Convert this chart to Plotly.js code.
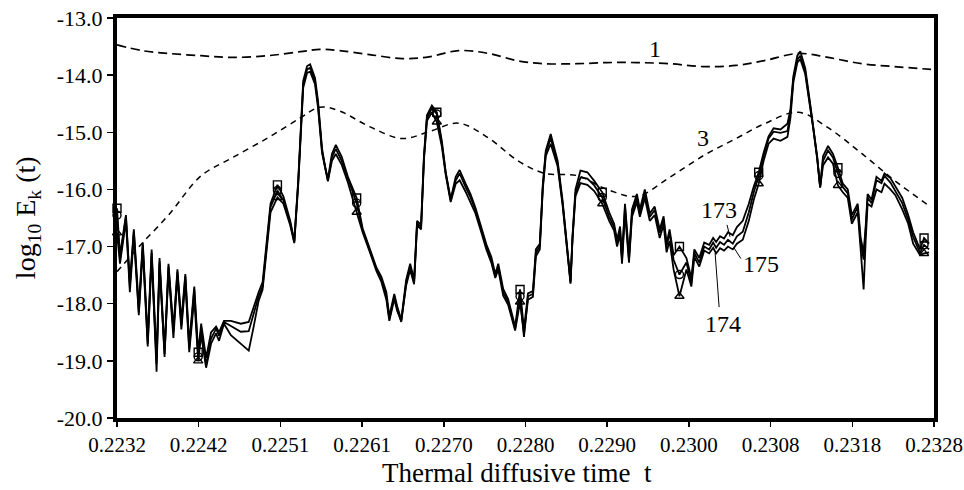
<!DOCTYPE html>
<html>
<head>
<meta charset="utf-8">
<script src="https://cdn.plot.ly/plotly-3.0.1.min.js"></script>
<style>html,body{margin:0;padding:0;background:#fff;}#chart{width:964px;height:490px;}</style>
</head>
<body>
<div id="chart"></div>
<script>
// Thermal diffusive time samples
const t = [
0.223200,0.223235,0.223305,0.223351,0.223398,0.223456,0.223503,0.223561,0.223607,0.223665,
0.223700,0.223759,0.223805,0.223863,0.223910,0.223956,0.224003,0.224049,0.224108,0.224154,
0.224189,0.224247,0.224305,0.224364,0.224399,0.224457,0.224538,0.224655,0.224748,0.224806,
0.224864,0.224911,0.224969,0.225004,0.225085,0.225155,0.225236,0.225283,0.225329,0.225364,
0.225388,0.225434,0.225469,0.225527,0.225562,0.225609,0.225644,0.225678,0.225725,0.225771,
0.225841,0.225911,0.226016,0.226086,0.226167,0.226249,0.226307,0.226365,0.226400,0.226458,
0.226493,0.226540,0.226598,0.226645,0.226691,0.226726,0.226773,0.226807,0.226842,0.226900,
0.226958,0.227017,0.227063,0.227121,0.227180,0.227226,0.227296,0.227354,0.227412,0.227482,
0.227540,0.227598,0.227645,0.227680,0.227738,0.227796,0.227878,0.227936,0.227982,0.228029,
0.228087,0.228122,0.228168,0.228203,0.228238,0.228296,0.228378,0.228436,0.228483,0.228529,
0.228553,0.228587,0.228646,0.228727,0.228808,0.228902,0.228983,0.229041,0.229076,0.229111,
0.229134,0.229169,0.229216,0.229251,0.229309,0.229344,0.229402,0.229460,0.229518,0.229577,
0.229623,0.229658,0.229693,0.229740,0.229809,0.229891,0.229949,0.229984,0.230042,0.230100,
0.230158,0.230205,0.230240,0.230286,0.230333,0.230379,0.230436,0.230484,0.230553,0.230624,
0.230682,0.230740,0.230798,0.230856,0.230915,0.230996,0.231078,0.231113,0.231147,0.231194,
0.231229,0.231287,0.231345,0.231380,0.231427,0.231462,0.231496,0.231555,0.231613,0.231671,
0.231729,0.231787,0.231834,0.231869,0.231904,0.231938,0.231973,0.231997,0.232020,0.232066,
0.232124,0.232183,0.232218,0.232288,0.232346,0.232427,0.232497,0.232555,0.232636,0.232683,
0.232742];

// log10 Ek(t), run 173
const e173 = [
-16.33,-17.15,-16.45,-17.62,-16.70,-18.05,-16.93,-18.60,-17.05,-18.95,
-17.20,-18.80,-17.30,-18.45,-17.40,-18.30,-17.48,-18.70,-17.70,-18.85,
-18.35,-18.95,-18.50,-18.40,-18.50,-18.30,-18.30,-18.35,-18.32,-18.05,
-17.80,-17.62,-16.70,-16.25,-15.92,-16.12,-16.55,-16.90,-15.85,-14.70,
-14.10,-13.84,-13.81,-14.05,-14.45,-15.28,-15.60,-15.82,-15.38,-15.22,
-15.43,-15.77,-16.15,-16.68,-17.02,-17.37,-17.53,-17.80,-18.22,-17.83,
-18.05,-18.28,-17.58,-17.30,-17.58,-16.55,-16.62,-15.40,-14.70,-14.53,
-14.65,-15.15,-15.70,-16.17,-15.78,-15.66,-15.90,-16.08,-16.32,-16.67,
-16.96,-17.18,-17.48,-17.30,-17.74,-17.92,-18.40,-17.75,-18.45,-17.82,
-17.78,-17.05,-16.95,-15.92,-15.32,-15.03,-15.50,-16.20,-16.97,-17.60,
-16.80,-16.00,-15.67,-15.70,-15.85,-16.05,-16.40,-16.60,-16.88,-16.65,
-17.18,-16.25,-17.15,-16.35,-16.08,-16.35,-16.00,-16.42,-16.30,-16.70,
-16.47,-16.95,-16.70,-17.15,-17.00,-17.20,-17.55,-17.05,-17.20,-16.93,
-16.97,-16.85,-16.92,-16.82,-16.86,-16.75,-16.80,-16.66,-16.55,-16.25,
-15.95,-15.70,-15.36,-15.07,-14.93,-14.95,-14.85,-14.60,-14.02,-13.66,
-13.58,-13.88,-14.50,-14.87,-15.42,-15.95,-15.42,-15.24,-15.38,-15.62,
-15.90,-16.00,-16.45,-16.35,-16.25,-16.85,-17.10,-16.65,-16.08,-16.18,
-15.78,-15.85,-15.72,-15.80,-15.95,-16.15,-16.45,-16.75,-17.05,-16.85,
-16.95];

// log10 Ek(t), run 174
const e174 = [
-16.45,-17.23,-16.48,-17.70,-16.74,-18.15,-16.97,-18.70,-17.11,-19.19,
-17.26,-18.93,-17.35,-18.49,-17.44,-18.39,-17.52,-18.79,-17.75,-18.93,
-18.44,-19.08,-18.61,-18.44,-18.56,-18.32,-18.39,-18.49,-18.48,-18.15,
-17.87,-17.70,-16.76,-16.31,-16.02,-16.19,-16.59,-16.92,-15.89,-14.75,
-14.16,-13.90,-13.87,-14.11,-14.51,-15.32,-15.62,-15.84,-15.44,-15.29,
-15.50,-15.81,-16.24,-16.71,-17.05,-17.40,-17.57,-17.87,-18.27,-17.87,
-18.09,-18.32,-17.63,-17.35,-17.63,-16.59,-16.66,-15.44,-14.75,-14.58,
-14.68,-15.20,-15.72,-16.19,-15.84,-15.72,-15.96,-16.14,-16.36,-16.71,
-17.00,-17.23,-17.52,-17.35,-17.80,-17.97,-18.44,-17.87,-18.58,-17.87,
-17.83,-17.11,-17.00,-15.96,-15.37,-15.10,-15.55,-16.24,-17.00,-17.63,
-16.83,-16.07,-15.79,-15.81,-15.93,-16.14,-16.48,-16.66,-16.93,-16.71,
-17.23,-16.31,-17.23,-16.41,-16.14,-16.41,-16.07,-16.48,-16.36,-16.76,
-16.53,-17.00,-16.76,-17.23,-17.49,-17.28,-17.63,-17.11,-17.28,-17.00,
-17.05,-16.93,-17.02,-16.92,-16.97,-16.88,-16.95,-16.82,-16.74,-16.40,
-16.05,-15.76,-15.41,-15.11,-14.99,-15.01,-14.98,-14.66,-14.07,-13.73,
-13.66,-13.94,-14.54,-14.89,-15.44,-15.96,-15.50,-15.32,-15.44,-15.72,
-15.96,-16.07,-16.53,-16.41,-16.31,-16.93,-17.23,-16.71,-16.14,-16.24,
-15.84,-15.89,-15.76,-15.88,-16.02,-16.24,-16.53,-16.83,-17.11,-16.97,
-17.05];

// log10 Ek(t), run 175
const e175 = [
-16.76,-17.30,-16.55,-17.80,-16.80,-18.20,-17.05,-18.75,-17.18,-19.05,
-17.32,-18.88,-17.42,-18.60,-17.52,-18.45,-17.62,-18.85,-17.90,-19.00,
-18.55,-19.12,-18.70,-18.52,-18.65,-18.35,-18.55,-18.70,-18.82,-18.40,
-17.95,-17.75,-16.82,-16.40,-16.14,-16.25,-16.63,-16.94,-15.93,-14.80,
-14.22,-13.96,-13.94,-14.16,-14.57,-15.36,-15.65,-15.86,-15.50,-15.38,
-15.57,-15.87,-16.40,-16.75,-17.08,-17.43,-17.62,-17.93,-18.30,-17.92,
-18.13,-18.30,-17.68,-17.40,-17.66,-16.63,-16.70,-15.48,-14.80,-14.65,
-14.82,-15.25,-15.75,-16.22,-15.90,-15.84,-16.04,-16.22,-16.42,-16.76,
-17.05,-17.28,-17.55,-17.40,-17.86,-18.02,-18.47,-17.97,-18.52,-17.93,
-17.88,-17.17,-17.05,-16.00,-15.42,-15.20,-15.60,-16.28,-17.03,-17.65,
-16.86,-16.12,-15.89,-15.92,-16.03,-16.25,-16.55,-16.72,-17.00,-16.78,
-17.30,-16.40,-17.28,-16.48,-16.22,-16.48,-16.15,-16.55,-16.45,-16.85,
-16.62,-17.10,-16.90,-17.40,-17.87,-17.40,-17.70,-17.18,-17.35,-17.07,
-17.12,-17.02,-17.12,-17.03,-17.07,-17.00,-17.05,-16.95,-16.88,-16.55,
-16.18,-15.90,-15.50,-15.20,-15.11,-15.15,-15.08,-14.75,-14.13,-13.78,
-13.72,-13.98,-14.57,-14.91,-15.46,-15.97,-15.58,-15.44,-15.55,-15.93,
-16.05,-16.15,-16.60,-16.50,-16.40,-17.05,-17.75,-16.90,-16.25,-16.30,
-16.00,-16.05,-15.90,-16.00,-16.10,-16.35,-16.60,-16.95,-17.15,-17.12,
-17.10];

// indices of samples carrying symbols
const markIdx = [0,19,34,52,70,87,105,124,141,159,179];

// smooth curves "1" and "3"
const tSmooth = [0.223200,0.223491,0.223805,0.224189,0.224538,0.224969,0.225353,0.225585,0.225818,0.226167,
0.226551,0.226865,0.227214,0.227564,0.227913,0.228227,0.228611,0.228960,0.229309,0.229693,
0.230089,0.230473,0.230822,0.231206,0.231555,0.231950,0.232334,0.232765];
const e1 = [-13.47,-13.57,-13.62,-13.66,-13.69,-13.66,-13.59,-13.55,-13.57,-13.64,
-13.71,-13.68,-13.57,-13.62,-13.75,-13.80,-13.80,-13.78,-13.78,-13.80,
-13.85,-13.83,-13.74,-13.62,-13.69,-13.80,-13.85,-13.90];
const e3 = [-17.44,-16.95,-16.45,-15.76,-15.46,-15.10,-14.75,-14.56,-14.63,-14.90,
-15.11,-14.99,-14.84,-15.10,-15.50,-15.72,-15.76,-16.00,-16.12,-15.79,
-15.41,-15.11,-14.84,-14.65,-14.92,-15.37,-15.84,-16.31];

const xTickVals = [0.2232,0.22416,0.22512,0.22608,0.22704,0.228,0.22896,0.22992,0.23088,0.23184,0.2328];
const xTickText = ['0.2232','0.2242','0.2251','0.2261','0.2270','0.2280','0.2290','0.2300','0.2308','0.2318','0.2328'];
const yTickVals = [-13,-14,-15,-16,-17,-18,-19,-20];
const yTickText = ['-13.0','-14.0','-15.0','-16.0','-17.0','-18.0','-19.0','-20.0'];

const FONT = 'Liberation Serif, Times New Roman, serif';
const pick = (arr) => markIdx.map(i => arr[i]);
const lineStyle = {color:'#000', width:1.8};

const traces = [
  {x:tSmooth, y:e1, mode:'lines', line:{color:'#000', width:1.7, dash:'9px,5px', shape:'spline'}, hoverinfo:'skip'},
  {x:tSmooth, y:e3, mode:'lines', line:{color:'#000', width:1.5, dash:'6px,5px', shape:'spline'}, hoverinfo:'skip'},
  {x:t, y:e173, mode:'lines', line:lineStyle},
  {x:t, y:e174, mode:'lines', line:lineStyle},
  {x:t, y:e175, mode:'lines', line:lineStyle},
  {x:pick(t), y:pick(e173), mode:'markers', cliponaxis:false, marker:{symbol:'square-open', size:8, color:'#000', line:{width:1.4}}},
  {x:pick(t), y:pick(e174), mode:'markers', cliponaxis:false, marker:{symbol:'circle-open', size:8, color:'#000', line:{width:1.4}}},
  {x:pick(t), y:pick(e175), mode:'markers', cliponaxis:false, marker:{symbol:'triangle-up-open', size:8, color:'#000', line:{width:1.4}}}
];

const labFont = {family:FONT, size:24, color:'#000'};
const layout = {
  width:964, height:490,
  margin:{l:117, r:30, t:18, b:72},
  paper_bgcolor:'#fff', plot_bgcolor:'#fff',
  showlegend:false,
  font:{family:FONT, color:'#000'},
  xaxis:{range:[0.2232,0.2328], tickmode:'array', tickvals:xTickVals, ticktext:xTickText,
    showgrid:false, zeroline:false, showline:true, linewidth:4, linecolor:'#000', mirror:true,
    ticklabeloverflow:'allow', automargin:false,
    ticks:'outside', ticklen:5, tickwidth:1.5, tickcolor:'#000', tickfont:{family:FONT, size:21, color:'#000'}},
  yaxis:{range:[-20,-13], tickmode:'array', tickvals:yTickVals, ticktext:yTickText,
    showgrid:false, zeroline:false, showline:true, linewidth:4, linecolor:'#000', mirror:true,
    ticklabeloverflow:'allow', automargin:false,
    ticks:'outside', ticklen:6, tickwidth:1.5, tickcolor:'#000', tickfont:{family:FONT, size:22, color:'#000'}},
  annotations:[
    {xref:'paper', yref:'paper', x:0.49, y:-0.1375, xanchor:'center', yanchor:'middle', showarrow:false,
     text:'Thermal diffusive time\u00a0 t', font:{family:FONT, size:27, color:'#000'}},
    {xref:'paper', yref:'paper', x:-0.11, y:0.5, xanchor:'center', yanchor:'middle', showarrow:false, textangle:-90,
     text:'log<sub>10</sub> E<sub>k</sub> (t)', font:{family:FONT, size:28, color:'#000'}},
    {x:0.229518, y:-13.54, text:'1', showarrow:false, font:labFont},
    {x:0.230089, y:-15.10, text:'3', showarrow:false, font:labFont},
    {x:0.230275, y:-16.36, text:'173', showarrow:false, font:labFont},
    {x:0.230763, y:-17.30, text:'175', showarrow:false, font:labFont},
    {x:0.230321, y:-18.35, text:'174', showarrow:false, font:labFont}
  ],
  shapes:[
    {type:'line', xref:'x', yref:'y', x0:0.230368, y0:-16.62, x1:0.230403, y1:-16.83, line:{color:'#000', width:1}},
    {type:'line', xref:'x', yref:'y', x0:0.230449, y0:-17.02, x1:0.230531, y1:-17.21, line:{color:'#000', width:1}},
    {type:'line', xref:'x', yref:'y', x0:0.230228, y0:-17.11, x1:0.230275, y1:-18.06, line:{color:'#000', width:1}}
  ]
};

Plotly.newPlot('chart', traces, layout, {staticPlot:true, displayModeBar:false});
</script>
</body>
</html>
